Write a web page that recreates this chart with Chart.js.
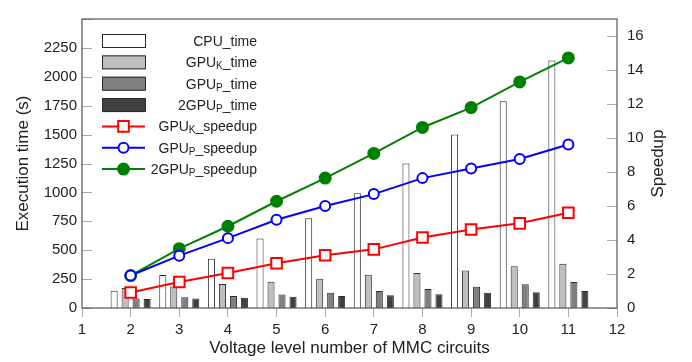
<!DOCTYPE html>
<html lang="en">
<head>
  <meta charset="UTF-8" />
  <title>Execution time and speedup - MMC circuits</title>
  <script src="https://cdn.jsdelivr.net/npm/chart.js"></script>
  <style>
    html, body {
      margin: 0;
      padding: 0;
      background: #fff;
    }
  </style>
</head>
<body>
  <canvas id="speedChart" width="692" height="362"></canvas>

  <script>
    // Voltage levels (x values)
    const levels = [2, 3, 4, 5, 6, 7, 8, 9, 10, 11];

    // Execution times (s), left axis
    const cpuTime = [150, 286, 425, 602, 777, 993, 1251, 1501, 1789, 2142];
    const gpuKTime = [172, 186, 208, 228, 253, 288, 303, 325, 361, 383];
    const gpuPTime = [82, 92, 103, 117, 131, 147, 164, 183, 205, 225];
    const gpu2PTime = [78, 83, 89, 97, 103, 110, 120, 131, 136, 147];

    // Speedups, right axis
    const gpuKSpeedup = [0.91, 1.53, 2.06, 2.63, 3.10, 3.45, 4.15, 4.62, 4.98, 5.60];
    const gpuPSpeedup = [1.91, 3.08, 4.11, 5.19, 6.00, 6.70, 7.64, 8.21, 8.77, 9.62];
    const gpu2PSpeedup = [1.91, 3.49, 4.81, 6.28, 7.64, 9.09, 10.62, 11.79, 13.30, 14.71];

    // Legend labels: [main, subscript, rest]
    const legendParts = [
      ['CPU_time', '', ''],
      ['GPU', 'K', '_time'],
      ['GPU', 'P', '_time'],
      ['2GPU', 'P', '_time'],
      ['GPU', 'K', '_speedup'],
      ['GPU', 'P', '_speedup'],
      ['2GPU', 'P', '_speedup']
    ];

    const FONT = "'Liberation Sans', Arial, Helvetica, sans-serif";
    const TEXT = '#222';

    const toPoints = vals => vals.map((v, i) => ({ x: levels[i], y: v }));
    const labelOf = i => legendParts[i].join('');

    const barSet = (i, vals, fill) => ({
      type: 'bar',
      label: labelOf(i),
      data: toPoints(vals),
      yAxisID: 'y',
      backgroundColor: fill,
      borderColor: '#2a2a2a',
      borderWidth: 1,
      categoryPercentage: 0.905,
      barPercentage: 0.64,
      order: 5
    });

    const lineSet = (i, vals, color, style, radius, fill, order) => ({
      type: 'line',
      label: labelOf(i),
      data: toPoints(vals),
      yAxisID: 'y2',
      borderColor: color,
      borderWidth: 2,
      pointStyle: style,
      pointRadius: radius,
      pointBorderWidth: 2,
      pointBackgroundColor: fill,
      pointBorderColor: color,
      fill: false,
      tension: 0,
      order: order
    });

    // Frame, inward y ticks, right title and legend
    const decorations = {
      id: 'decorations',
      afterDraw(chart) {
        const ctx = chart.ctx;
        const a = chart.chartArea;
        const y = chart.scales.y;
        const y2 = chart.scales.y2;

        ctx.save();
        // inward tick marks
        ctx.strokeStyle = '#aaa';
        ctx.lineWidth = 1;
        ctx.beginPath();
        y.ticks.forEach(t => {
          const py = Math.round(y.getPixelForValue(t.value)) + 0.5;
          ctx.moveTo(a.left, py);
          ctx.lineTo(a.left + 10, py);
        });
        y2.ticks.forEach(t => {
          const py = Math.round(y2.getPixelForValue(t.value)) + 0.5;
          ctx.moveTo(a.right - 10, py);
          ctx.lineTo(a.right, py);
        });
        ctx.stroke();

        // frame
        ctx.strokeStyle = '#555';
        ctx.lineWidth = 1.2;
        ctx.strokeRect(a.left, a.top, a.right - a.left, a.bottom - a.top);

        // right axis title, reading bottom to top
        ctx.fillStyle = TEXT;
        ctx.font = '17px ' + FONT;
        ctx.textAlign = 'center';
        ctx.textBaseline = 'middle';
        ctx.translate(chart.width - 34, (a.top + a.bottom) / 2);
        ctx.rotate(-Math.PI / 2);
        ctx.fillText('Speedup', 0, 0);
        ctx.restore();

        // legend
        ctx.save();
        const x0 = a.left + 20, x1 = a.left + 63, textRight = a.left + 175;
        const rowH = 21.35;
        chart.data.datasets.forEach((ds, i) => {
          const cy = a.top + 22 + i * rowH;
          if (ds.type === 'bar') {
            ctx.fillStyle = ds.backgroundColor;
            ctx.fillRect(x0, cy - 7, x1 - x0, 14);
            ctx.strokeStyle = '#2a2a2a';
            ctx.lineWidth = 1;
            ctx.strokeRect(x0 + 0.5, cy - 6.5, x1 - x0, 13);
          } else {
            ctx.strokeStyle = ds.borderColor;
            ctx.lineWidth = 2;
            ctx.beginPath();
            ctx.moveTo(x0, cy);
            ctx.lineTo(x1, cy);
            ctx.stroke();
            const mx = (x0 + x1) / 2;
            ctx.fillStyle = ds.pointBackgroundColor;
            ctx.beginPath();
            if (ds.pointStyle === 'rect') {
              const h = ds.pointRadius * Math.SQRT1_2;
              ctx.rect(mx - h, cy - h, 2 * h, 2 * h);
            } else {
              ctx.arc(mx, cy, ds.pointRadius, 0, Math.PI * 2);
            }
            ctx.fill();
            ctx.stroke();
          }

          const [main, sub, rest] = legendParts[i];
          ctx.fillStyle = TEXT;
          ctx.textBaseline = 'alphabetic';
          ctx.textAlign = 'left';
          const big = '14px ' + FONT, small = '10px ' + FONT;
          ctx.font = big;
          const wMain = ctx.measureText(main).width;
          const wRest = ctx.measureText(rest).width;
          ctx.font = small;
          const wSub = ctx.measureText(sub).width;
          let tx = textRight - wMain - wSub - wRest;
          const base = cy + 5;
          ctx.font = big;
          ctx.fillText(main, tx, base);
          tx += wMain;
          ctx.font = small;
          ctx.fillText(sub, tx, base + 2);
          tx += wSub;
          ctx.font = big;
          ctx.fillText(rest, tx, base);
        });
        ctx.restore();
      }
    };

    const ctx = document.getElementById('speedChart').getContext('2d');

    new Chart(ctx, {
      type: 'bar',
      data: {
        datasets: [
          barSet(0, cpuTime, '#ffffff'),
          barSet(1, gpuKTime, '#bfbfbf'),
          barSet(2, gpuPTime, '#808080'),
          barSet(3, gpu2PTime, '#404040'),
          lineSet(4, gpuKSpeedup, '#ff0000', 'rect', 7.5, '#ffffff', 0),
          lineSet(5, gpuPSpeedup, '#0000ff', 'circle', 5, '#ffffff', 1),
          lineSet(6, gpu2PSpeedup, '#008000', 'circle', 5.5, '#008000', 2)
        ]
      },
      options: {
        responsive: false,
        animation: false,
        layout: { padding: { top: 7, left: 0, right: 0, bottom: 0 } },
        plugins: {
          legend: { display: false },
          tooltip: { enabled: false }
        },
        scales: {
          x: {
            type: 'linear',
            min: 1,
            max: 12,
            offset: false,
            grid: { offset: false, drawOnChartArea: false, color: '#aaa', tickLength: 9 },
            border: { display: false },
            ticks: { stepSize: 1, padding: 4, color: TEXT, font: { family: FONT, size: 15 } },
            title: {
              display: true,
              text: 'Voltage level number of MMC circuits',
              color: TEXT,
              font: { family: FONT, size: 17 },
              padding: { top: 0, bottom: 3 }
            },
            afterFit: s => { s.height = 54; }
          },
          y: {
            position: 'left',
            min: 0,
            max: 2500,
            grid: { display: false, drawTicks: false },
            border: { display: false },
            ticks: {
              stepSize: 250,
              padding: 5,
              color: TEXT,
              font: { family: FONT, size: 15 },
              callback: v => (v < 2500 ? v : '')
            },
            title: {
              display: true,
              text: 'Execution time (s)',
              color: TEXT,
              font: { family: FONT, size: 17 },
              padding: { top: 13, bottom: 0 }
            },
            afterFit: s => { s.width = 82; }
          },
          y2: {
            position: 'right',
            min: 0,
            max: 17,
            grid: { display: false, drawTicks: false },
            border: { display: false },
            ticks: {
              stepSize: 2,
              includeBounds: false,
              padding: 10,
              color: TEXT,
              font: { family: FONT, size: 15 }
            },
            afterFit: s => { s.width = 75; }
          }
        }
      },
      plugins: [decorations]
    });
  </script>
</body>
</html>
